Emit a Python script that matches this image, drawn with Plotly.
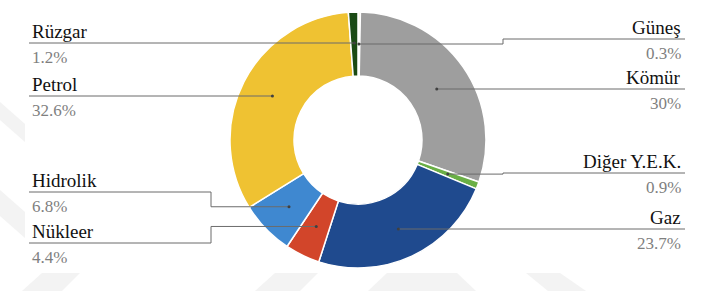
import math
import plotly.graph_objects as go

# ---- data ----
labels = ["Güneş", "Kömür", "Diğer Y.E.K.", "Gaz", "Nükleer", "Hidrolik", "Petrol", "Rüzgar"]
values = [0.3, 30, 0.9, 23.7, 4.4, 6.8, 32.6, 1.2]
pct_text = ["0.3%", "30%", "0.9%", "23.7%", "4.4%", "6.8%", "32.6%", "1.2%"]
colors = ["#FBEFC4", "#9E9E9E", "#6AAF46", "#1F4A8E", "#D2452A", "#3F88D0", "#EFC232", "#1B4A14"]

# ---- layout (pixel geometry) ----
W, H = 705, 291
CX, CY, R = 358, 140, 128
HOLE = 0.5
FONT = "Liberation Serif"

def px(x):
    return x / W

def py(y):
    return 1 - y / H

# side, label-line y, elbow x (None = direct)
label_pos = {
    "Güneş": ("right", 39, 503),
    "Kömür": ("right", 89, None),
    "Diğer Y.E.K.": ("right", 173, 503),
    "Gaz": ("right", 229, None),
    "Nükleer": ("left", 243, 211),
    "Hidrolik": ("left", 192, 211),
    "Petrol": ("left", 96, None),
    "Rüzgar": ("left", 43, None),
}
LEFT_X0, LEFT_TXT = 29, 30
RIGHT_X1, RIGHT_TXT = 685, 683

# faint background watermark polygons (decorative)
watermark = [
    [(0, 102), (25, 124), (25, 142), (0, 120)],
    [(0, 190), (25, 212), (25, 238), (0, 216)],
    [(22, 291), (42, 273), (80, 273), (62, 291)],
    [(255, 291), (275, 273), (318, 273), (300, 291)],
    [(368, 291), (387, 273), (457, 273), (476, 291)],
    [(526, 273), (560, 273), (586, 291), (548, 291)],
]

fig = go.Figure(go.Pie(
    labels=labels, values=values, sort=False, direction="clockwise", rotation=0,
    hole=HOLE, textinfo="none", hoverinfo="label+percent",
    marker=dict(colors=colors, line=dict(color="white", width=1.5)),
    domain=dict(x=[px(CX - R), px(CX + R)], y=[py(CY + R), py(CY - R)]),
    showlegend=False,
))

shapes = []
for poly in watermark:
    p = "M " + " L ".join(f"{px(x)} {py(y)}" for x, y in poly) + " Z"
    shapes.append(dict(type="path", path=p, xref="paper", yref="paper", layer="below",
                       fillcolor="#F3F3F3", line=dict(width=0)))

total = sum(values)
cum = 0.0
annotations = []
rmid = R * (1 + HOLE) / 2
line_col = "#6b6b6b"
for lab, v, pt in zip(labels, values, pct_text):
    mid = (cum + v / 2) / total * 2 * math.pi
    cum += v
    ax = CX + rmid * math.sin(mid)
    ay = CY - rmid * math.cos(mid)
    side, ly, ex = label_pos[lab]
    x_end = LEFT_X0 if side == "left" else RIGHT_X1
    if ex is None:
        ay = ly
        path = f"M {px(x_end)} {py(ly)} L {px(ax)} {py(ly)}"
    else:
        path = (f"M {px(x_end)} {py(ly)} L {px(ex)} {py(ly)} "
                f"L {px(ex)} {py(ay)} L {px(ax)} {py(ay)}")
    shapes.append(dict(type="path", path=path, xref="paper", yref="paper",
                       line=dict(color=line_col, width=1)))
    d = 1.5
    shapes.append(dict(type="circle", xref="paper", yref="paper",
                       x0=px(ax - d), x1=px(ax + d), y0=py(ay + d), y1=py(ay - d),
                       fillcolor="#404040", line=dict(width=0)))
    tx = LEFT_TXT if side == "left" else RIGHT_TXT
    xa = "left" if side == "left" else "right"
    annotations.append(dict(x=px(tx), y=py(ly + 1), xref="paper", yref="paper",
                            text=lab, showarrow=False, xanchor=xa, yanchor="bottom",
                            font=dict(family=FONT, size=19, color="#111111")))
    annotations.append(dict(x=px(tx), y=py(ly + 3), xref="paper", yref="paper",
                            text=pt, showarrow=False, xanchor=xa, yanchor="top",
                            font=dict(family=FONT, size=17, color="#7F7F7F")))

fig.update_layout(
    width=W, height=H, margin=dict(l=0, r=0, t=0, b=0),
    paper_bgcolor="white", plot_bgcolor="white",
    shapes=shapes, annotations=annotations,
)
fig.write_html("out.html")
